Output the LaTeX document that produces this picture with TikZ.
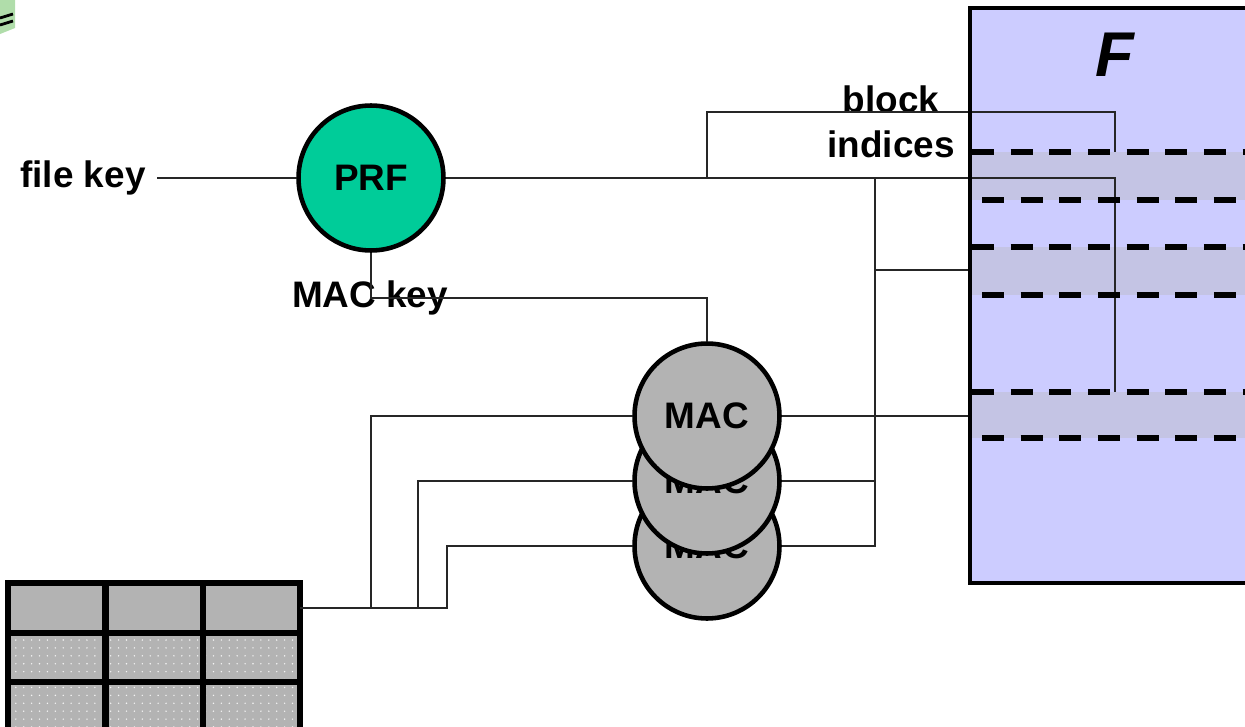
\documentclass[tikz,border=0pt]{standalone}
\usepackage{fontspec}
\setmainfont{Liberation Sans}
\usetikzlibrary{patterns}

\definecolor{prfgreen}{HTML}{00CC99}
\definecolor{macgray}{HTML}{B3B3B3}
\definecolor{filebg}{HTML}{CCCCFF}
\definecolor{bandbg}{HTML}{C4C4E4}
\definecolor{logogreen}{HTML}{B0DDAA}

\pgfdeclarepatternformonly{sparsedots}{\pgfqpoint{-1pt}{-1pt}}{\pgfqpoint{1pt}{1pt}}{\pgfqpoint{4.5pt}{4.5pt}}
{\pgfpathcircle{\pgfqpoint{0pt}{0pt}}{.45pt}\pgfusepath{fill}}

\tikzset{
 lbl/.style={font=\bfseries\fontsize{21}{25.5}\selectfont, inner sep=1pt},
 disc/.style={circle, draw, line width=2.6pt, minimum size=2.9cm, lbl},
 wire/.style={line width=0.6pt, black!85},
 cut/.style={line width=3.2pt, dash pattern=on 12.5pt off 9.5pt},
 cell/.style={draw, line width=3pt},
}

\begin{document}
\begin{tikzpicture}[x=0.02cm,y=-0.02cm]
\useasboundingbox (0,0) rectangle (1245,727);

% corner of the logo
\fill[logogreen] (0,0) -- (15,0) -- (15,28) -- (0,34) -- cycle;
\draw[line width=1.6pt] (0,18) -- (13,14) (0,25) -- (13,21);

% the file F
\fill[filebg] (970,8) rectangle (1260,583);
\foreach \a/\b in {152/200,247/295,392/438}
 \fill[bandbg] (972,\a) rectangle (1260,\b);
\node[font=\bfseries\itshape\fontsize{36}{40}\selectfont] (F) at (1115,55) {F};
\coordinate (b1) at (1115,152);
\coordinate (t1) at (1115,112);
\coordinate (b3) at (1115,392);
\coordinate (f2) at (970,270);
\coordinate (f3) at (970,416);

% keys and PRF
\node[lbl] (filekey) at (83,178) {file key};
\node[disc, fill=prfgreen] (prf) at (371,178) {PRF};
\node[lbl] (mackey) at (370,298) {MAC key};
\node[lbl, align=center] (idx) at (891,122) {block\\indices};

% MACs, back to front
\node[disc, fill=macgray] (mac3) at (707,546) {MAC};
\node[disc, fill=macgray] (mac2) at (707,481) {MAC};
\node[disc, fill=macgray] (mac1) at (707,416) {MAC};

% table of blocks
\foreach \c [count=\i] in {8,106,203}{
 \draw[cell, fill=macgray] (\c,583) rectangle ++(97,50);
 \foreach \r in {633,682}{
  \fill[macgray] (\c,\r) rectangle ++(97,49);
  \fill[pattern=sparsedots, pattern color=white!85!macgray] (\c,\r) rectangle ++(97,49);
  \draw[cell] (\c,\r) rectangle ++(97,49);
 }
}
\coordinate (tab) at (300,608);

% wires
\coordinate (j1) at (707,178);
\coordinate (c1) at (875,178);
\coordinate (c2) at (875,270);
\draw[wire, shorten <=5.5pt] (filekey) -- (prf);
\draw[wire] (prf.east) -| (b3);
\draw[wire] (j1) |- (t1) -- (b1);
\draw[wire] (prf.south) |- (mac1.north |- mackey) -- (mac1.north);
\draw[wire] (tab) -| (371,416) -- (mac1.west);
\draw[wire] (tab) -| (418,481) -- (mac2.west);
\draw[wire] (tab) -| (447,546) -- (mac3.west);
\draw[wire] (mac1.east) -- (f3);
\draw[wire] (mac2.east) -- (875,481);
\draw[wire] (mac3.east) -| (c1);
\draw[wire] (c2) -- (f2);

% block boundaries and border of F
\foreach \a/\b in {152/200,247/295,392/438}{
 \draw[cut] (972,\a) -- (1260,\a);
 \draw[cut] (982,\b) -- (1260,\b);
}
\draw[line width=2.8pt] (970,8) rectangle (1260,583);

\end{tikzpicture}
\end{document}
